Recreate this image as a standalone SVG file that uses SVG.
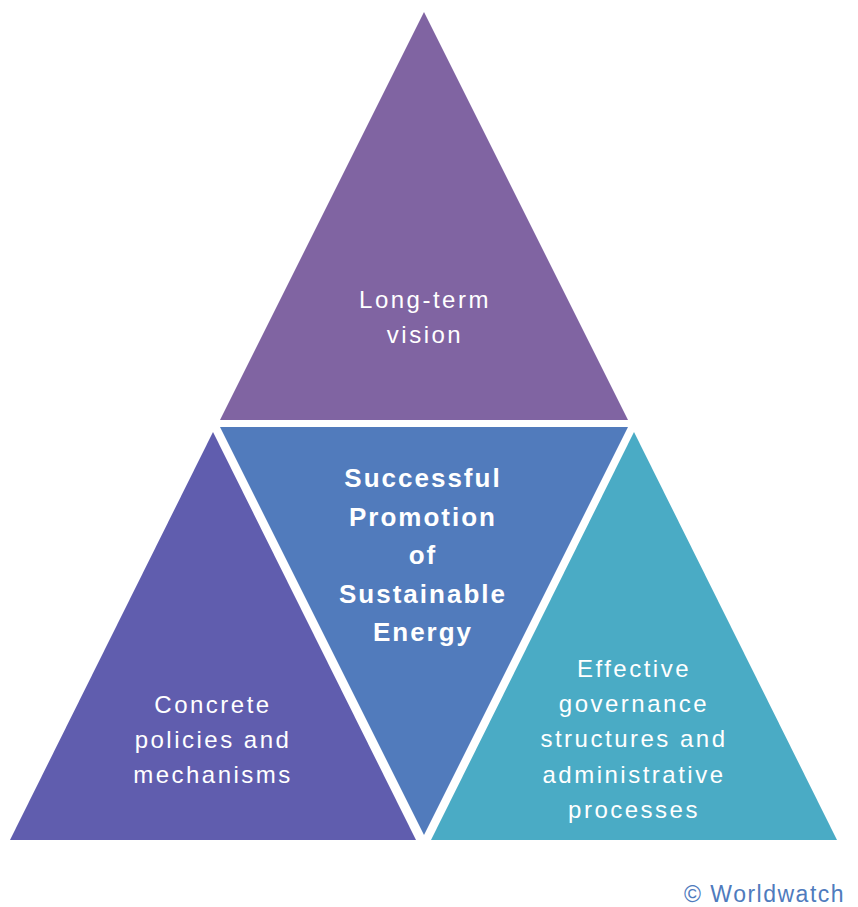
<svg xmlns="http://www.w3.org/2000/svg" width="858" height="907" viewBox="0 0 858 907">
<style>
.t{font-family:"Liberation Sans",Arial,sans-serif;font-size:24px;fill:#fff;text-anchor:middle;letter-spacing:2.5px}
.b{font-family:"Liberation Sans",Arial,sans-serif;font-size:26px;font-weight:bold;fill:#fff;text-anchor:middle;letter-spacing:2px}
</style>
<rect width="858" height="907" fill="#fff"/>
<g id="top">
<polygon points="424,12 628,420 220,420" fill="#8064A2"/>
<text class="t" x="425" y="308">Long-term</text>
<text class="t" x="425" y="343">vision</text>
</g>
<g id="center">
<polygon points="220,427 628,427 424,835" fill="#517BBC"/>
<text class="b" x="423" y="487">Successful</text>
<text class="b" x="423" y="526">Promotion</text>
<text class="b" x="423" y="564">of</text>
<text class="b" x="423" y="603">Sustainable</text>
<text class="b" x="423" y="641">Energy</text>
</g>
<g id="left">
<polygon points="213,432 416,840 10,840" fill="#605DAE"/>
<text class="t" x="213" y="713">Concrete</text>
<text class="t" x="213" y="748">policies and</text>
<text class="t" x="213" y="783">mechanisms</text>
</g>
<g id="right">
<polygon points="634,432 837,840 431,840" fill="#4AABC5"/>
<text class="t" x="634" y="677">Effective</text>
<text class="t" x="634" y="712">governance</text>
<text class="t" x="634" y="747">structures and</text>
<text class="t" x="634" y="783">administrative</text>
<text class="t" x="634" y="818">processes</text>
</g>
<g id="connectors"></g>
<text x="684" y="902" font-family="Liberation Sans,Arial,sans-serif" font-size="23" fill="#4F7BBD" letter-spacing="1.5">© Worldwatch</text>
</svg>
